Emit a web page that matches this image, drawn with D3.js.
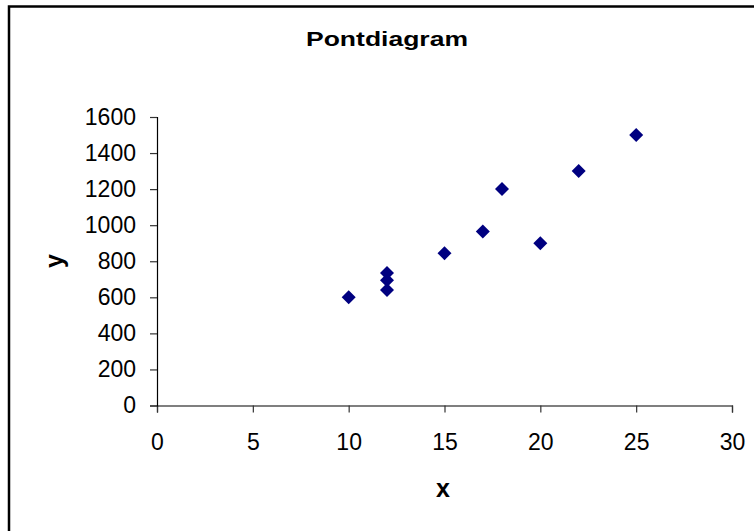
<!DOCTYPE html>
<html>
<head>
<meta charset="utf-8">
<script src="https://cdn.jsdelivr.net/npm/d3@7"></script>
<style>
  html, body { margin: 0; padding: 0; background: #fff; }
  svg { display: block; font-family: "Liberation Sans", Arial, sans-serif; }
</style>
</head>
<body>
<svg id="chart" width="754" height="531"></svg>
<script>
const title = "Pontdiagram";
const xLabel = "x";
const yLabel = "y";
const xValues = [10, 12, 12, 12, 15, 17, 18, 20, 22, 25];
const yValues = [600, 735, 695, 640, 845, 965, 1200, 900, 1300, 1500];
const xTicks = [0, 5, 10, 15, 20, 25, 30];
const yTicks = [0, 200, 400, 600, 800, 1000, 1200, 1400, 1600];

const svg = d3.select("#chart");

svg.append("rect")
  .attr("x", 9).attr("y", 6.5)
  .attr("width", 800).attr("height", 600)
  .attr("fill", "#fff").attr("stroke", "#000").attr("stroke-width", 2.5);

const x = d3.scaleLinear().domain([0, 30]).range([157, 732]);
const y = d3.scaleLinear().domain([0, 1600]).range([405.5, 117]);

const xAxis = svg.append("g")
  .attr("transform", `translate(0,${y(0)})`)
  .call(d3.axisBottom(x).tickValues(xTicks).tickSize(7).tickPadding(21).tickFormat(d3.format("d")));
const yAxis = svg.append("g")
  .attr("transform", `translate(${x(0)},0)`)
  .call(d3.axisLeft(y).tickValues(yTicks).tickSize(7).tickPadding(14).tickFormat(d3.format("d")));

[xAxis, yAxis].forEach(g => {
  g.select(".domain").attr("stroke", "#000").attr("stroke-width", 1.2);
  g.selectAll(".tick line").attr("stroke", "#333").attr("stroke-width", 1.2);
  g.selectAll(".tick text").attr("fill", "#000").attr("font-size", 23)
    .attr("font-family", "'Liberation Sans', Arial, sans-serif");
});

svg.append("text")
  .attr("x", 387).attr("y", 46)
  .attr("text-anchor", "middle")
  .attr("font-weight", "bold").attr("font-size", 21)
  .attr("textLength", 162).attr("lengthAdjust", "spacingAndGlyphs")
  .text(title);

svg.append("text")
  .attr("x", 443).attr("y", 497)
  .attr("text-anchor", "middle")
  .attr("font-weight", "bold").attr("font-size", 25)
  .text(xLabel);

svg.append("text")
  .attr("transform", `translate(63,261) rotate(-90)`)
  .attr("text-anchor", "middle")
  .attr("font-weight", "bold").attr("font-size", 25)
  .text(yLabel);

const diamond = d3.symbol().type(d3.symbolSquare).size(98);
svg.append("g").selectAll("path")
  .data(xValues.map((v, i) => [v, yValues[i]]))
  .join("path")
  .attr("d", diamond)
  .attr("transform", d => `translate(${x(d[0])},${y(d[1])}) rotate(45)`)
  .attr("fill", "#000080");
</script>
</body>
</html>
